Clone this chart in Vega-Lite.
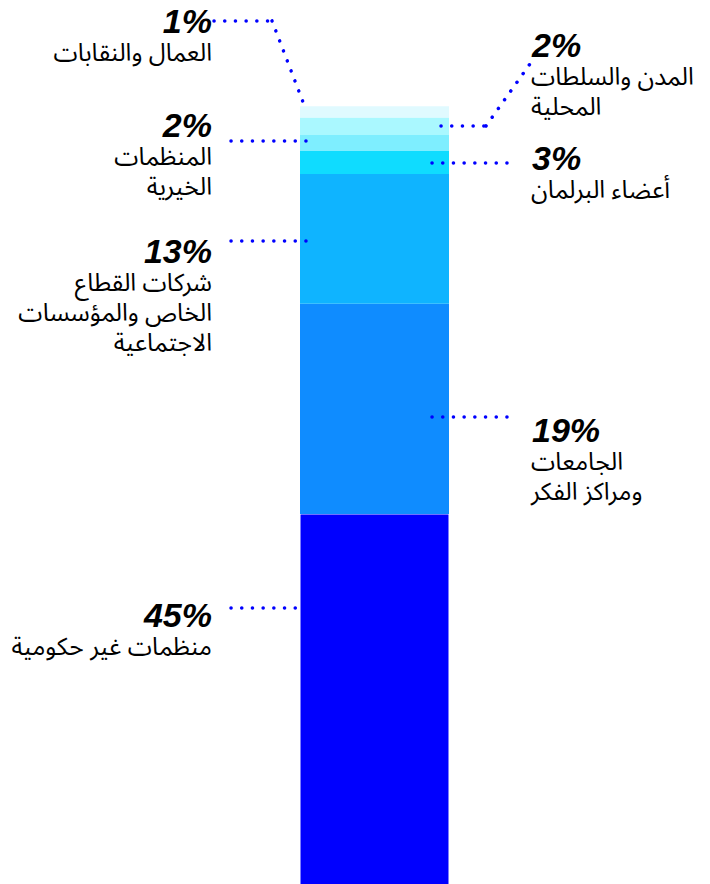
{
  "$schema": "https://vega.github.io/schema/vega-lite/v6.json",
  "width": 710,
  "height": 884,
  "autosize": "none",
  "padding": 0,
  "config": {"view": {"stroke": null}},
  "data": {
    "values": [
      {"key": "ngo", "rank": 1, "value": 45, "pct": "45%", "name": "منظمات غير حكومية", "side": "left", "ty": 34.73, "ly": 36.45},
      {"key": "univ", "rank": 2, "value": 19.1, "pct": "19%", "name": "الجامعات\nومراكز الفكر", "side": "right", "ty": 51.54, "ly": 53.81},
      {"key": "private", "rank": 3, "value": 11.8, "pct": "13%", "name": "شركات القطاع\nالخاص والمؤسسات\nالاجتماعية", "side": "left", "ty": 67.82, "ly": 69.82},
      {"key": "parliament", "rank": 4, "value": 2.1, "pct": "3%", "name": "أعضاء البرلمان", "side": "right", "ty": 76.27, "ly": 76.91},
      {"key": "charities", "rank": 5, "value": 1.45, "pct": "2%", "name": "المنظمات\nالخيرية", "side": "left", "ty": 79.27, "ly": 78.91},
      {"key": "cities", "rank": 6, "value": 1.6, "pct": "2%", "name": "المدن والسلطات\nالمحلية", "side": "right", "ty": 86.54, "ly": 80.27, "ly2": 85.91},
      {"key": "unions", "rank": 7, "value": 1.0, "pct": "1%", "name": "العمال والنقابات", "side": "left", "ty": 88.73, "ly": 89.82, "ly2": 81.73}
    ]
  },
  "layer": [
    {
      "mark": {"type": "bar", "clip": true, "strokeWidth": 1},
      "encoding": {
        "x": {"datum": "total", "type": "nominal", "scale": {"range": [300, 449], "paddingInner": 0, "paddingOuter": 0}, "axis": null},
        "y": {"field": "value", "type": "quantitative", "stack": "zero", "scale": {"domain": [11.36, 91.72], "nice": false, "zero": false}, "axis": null},
        "color": {
          "field": "key", "type": "nominal", "legend": null,
          "scale": {
            "domain": ["ngo", "univ", "private", "parliament", "charities", "cities", "unions"],
            "range": ["#0000ff", "#0f8cff", "#0fb4ff", "#0fdcff", "#7eeeff", "#aaf8ff", "#e0faff"]
          }
        },
        "order": {"field": "rank", "type": "quantitative"},
        "stroke": {"condition": {"test": "datum.key === 'ngo'", "value": "#ffffff"}, "value": "transparent"}
      }
    },
    {
      "transform": [{"filter": "datum.side === 'left' && datum.key !== 'unions'"}],
      "mark": {"type": "rule", "color": "#0000ff", "strokeWidth": 3.5, "strokeDash": [0.1, 10.6], "strokeCap": "round", "xOffset": -143.5, "x2Offset": -58.5},
      "encoding": {
        "x": {"datum": "total", "type": "nominal"},
        "x2": {"datum": "total"},
        "y": {"field": "ly", "type": "quantitative"}
      }
    },
    {
      "transform": [{"filter": "datum.side === 'right' && datum.key !== 'cities'"}],
      "mark": {"type": "rule", "color": "#0000ff", "strokeWidth": 3.5, "strokeDash": [0.1, 10.6], "strokeCap": "round", "xOffset": 57.5, "x2Offset": 142.5},
      "encoding": {
        "x": {"datum": "total", "type": "nominal"},
        "x2": {"datum": "total"},
        "y": {"field": "ly", "type": "quantitative"}
      }
    },
    {
      "transform": [{"filter": "datum.key === 'unions'"}],
      "mark": {"type": "rule", "color": "#0000ff", "strokeWidth": 3.5, "strokeDash": [0.1, 10.6], "strokeCap": "round", "xOffset": -160.5, "x2Offset": -102.5},
      "encoding": {
        "x": {"datum": "total", "type": "nominal"},
        "x2": {"datum": "total"},
        "y": {"field": "ly", "type": "quantitative"}
      }
    },
    {
      "transform": [{"filter": "datum.key === 'unions'"}],
      "mark": {"type": "rule", "color": "#0000ff", "strokeWidth": 3.5, "strokeDash": [0.1, 10.6], "strokeCap": "round", "xOffset": -102.5, "x2Offset": -68.5},
      "encoding": {
        "x": {"datum": "total", "type": "nominal"},
        "x2": {"datum": "total"},
        "y": {"field": "ly", "type": "quantitative"},
        "y2": {"field": "ly2"}
      }
    },
    {
      "transform": [{"filter": "datum.key === 'cities'"}],
      "mark": {"type": "rule", "color": "#0000ff", "strokeWidth": 3.5, "strokeDash": [0.1, 10.6], "strokeCap": "round", "xOffset": 66.5, "x2Offset": 111.5},
      "encoding": {
        "x": {"datum": "total", "type": "nominal"},
        "x2": {"datum": "total"},
        "y": {"field": "ly", "type": "quantitative"}
      }
    },
    {
      "transform": [{"filter": "datum.key === 'cities'"}],
      "mark": {"type": "rule", "color": "#0000ff", "strokeWidth": 3.5, "strokeDash": [0.1, 10.6], "strokeCap": "round", "xOffset": 111.5, "x2Offset": 155.5},
      "encoding": {
        "x": {"datum": "total", "type": "nominal"},
        "x2": {"datum": "total"},
        "y": {"field": "ly", "type": "quantitative"},
        "y2": {"field": "ly2"}
      }
    },
    {
      "transform": [{"filter": "datum.side === 'left'"}],
      "mark": {"type": "text", "align": "right", "baseline": "alphabetic", "dx": -162.5, "font": "Liberation Sans", "fontSize": 34, "fontWeight": "bold", "fontStyle": "italic", "color": "#000000"},
      "encoding": {
        "x": {"datum": "total", "type": "nominal"},
        "y": {"field": "ty", "type": "quantitative"},
        "text": {"field": "pct"}
      }
    },
    {
      "transform": [{"filter": "datum.side === 'right'"}],
      "mark": {"type": "text", "align": "left", "baseline": "alphabetic", "dx": 157.5, "font": "Liberation Sans", "fontSize": 34, "fontWeight": "bold", "fontStyle": "italic", "color": "#000000"},
      "encoding": {
        "x": {"datum": "total", "type": "nominal"},
        "y": {"field": "ty", "type": "quantitative"},
        "text": {"field": "pct"}
      }
    },
    {
      "transform": [{"filter": "datum.side === 'left'"}],
      "mark": {"type": "text", "align": "right", "baseline": "alphabetic", "dx": -162.5, "dy": 28, "lineBreak": "\n", "lineHeight": 30, "font": "Noto Sans Arabic, DejaVu Sans", "fontSize": 24.5, "color": "#000000"},
      "encoding": {
        "x": {"datum": "total", "type": "nominal"},
        "y": {"field": "ty", "type": "quantitative"},
        "text": {"field": "name"}
      }
    },
    {
      "transform": [{"filter": "datum.side === 'right'"}],
      "mark": {"type": "text", "align": "left", "baseline": "alphabetic", "dx": 156.5, "dy": 28, "lineBreak": "\n", "lineHeight": 30, "font": "Noto Sans Arabic, DejaVu Sans", "fontSize": 24.5, "color": "#000000"},
      "encoding": {
        "x": {"datum": "total", "type": "nominal"},
        "y": {"field": "ty", "type": "quantitative"},
        "text": {"field": "name"}
      }
    }
  ]
}
